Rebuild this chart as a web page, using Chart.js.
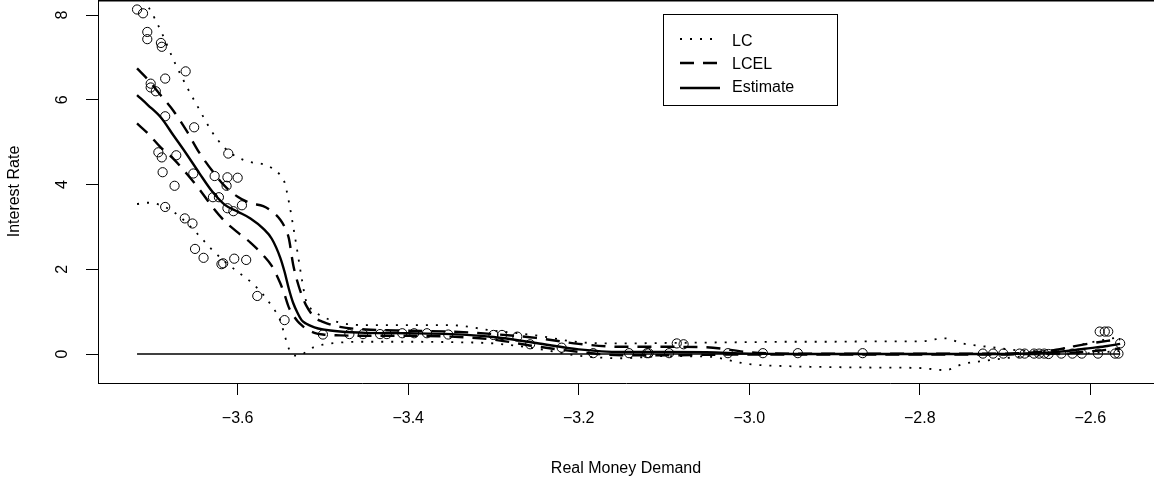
<!DOCTYPE html>
<html>
<head>
<meta charset="utf-8">
<script src="https://cdn.jsdelivr.net/npm/chart.js@4/dist/chart.umd.min.js"></script>
<style>
  html, body { margin: 0; padding: 0; background: #fff; }
  canvas { display: block; }
</style>
</head>
<body>
<canvas id="myChart" width="1154" height="484"></canvas>
<script>
// observed points (real money demand, interest rate)
const pointX = [-3.718, -3.711, -3.706, -3.706, -3.690, -3.689, -3.661, -3.685, -3.702, -3.702,
  -3.696, -3.685, -3.651, -3.611, -3.693, -3.689, -3.672, -3.688, -3.674, -3.652,
  -3.627, -3.612, -3.600, -3.613, -3.629, -3.622, -3.612, -3.605, -3.595, -3.685,
  -3.662, -3.653, -3.650, -3.640, -3.619, -3.617, -3.604, -3.590, -3.577, -3.545,
  -3.500, -3.469, -3.453, -3.433, -3.425, -3.407, -3.393, -3.378, -3.353, -3.300,
  -3.290, -3.272, -3.257, -3.220, -3.183, -3.141, -3.120, -3.118, -3.094, -3.085,
  -3.077, -3.025, -2.984, -2.943, -2.867, -2.726, -2.714, -2.702, -2.683, -2.677,
  -2.666, -2.660, -2.654, -2.649, -2.634, -2.621, -2.610, -2.591, -2.589, -2.583,
  -2.579, -2.571, -2.567, -2.565];
const pointY = [8.13, 8.04, 7.60, 7.43, 7.34, 7.25, 6.67, 6.50, 6.38, 6.29,
  6.20, 5.61, 5.35, 4.73, 4.76, 4.64, 4.69, 4.29, 3.97, 4.26,
  4.20, 4.17, 4.16, 3.97, 3.70, 3.70, 3.44, 3.37, 3.51, 3.47,
  3.20, 3.08, 2.48, 2.27, 2.12, 2.14, 2.25, 2.22, 1.37, 0.80,
  0.46, 0.47, 0.47, 0.47, 0.47, 0.49, 0.49, 0.49, 0.46, 0.45,
  0.45, 0.41, 0.23, 0.15, 0.02, 0.02, 0.02, 0.02, 0.02, 0.25,
  0.23, 0.02, 0.02, 0.02, 0.02, 0.01, 0.01, 0.01, 0.01, 0.01,
  0.01, 0.01, 0.01, 0.00, 0.01, 0.01, 0.01, 0.01, 0.53, 0.53,
  0.53, 0.01, 0.01, 0.25];

// curves, all on the same x grid
const curveX = [-3.718, -3.705, -3.69, -3.675, -3.66, -3.645, -3.63, -3.615, -3.60, -3.585,
  -3.57, -3.56, -3.55, -3.545, -3.54, -3.535, -3.53, -3.525, -3.52, -3.51,
  -3.50, -3.48, -3.45, -3.40, -3.35, -3.30, -3.25, -3.20, -3.15, -3.10,
  -3.05, -3.00, -2.95, -2.90, -2.85, -2.80, -2.77, -2.75, -2.72, -2.70,
  -2.68, -2.66, -2.64, -2.62, -2.60, -2.58, -2.565];
const estimate = [6.11, 5.87, 5.58, 5.15, 4.72, 4.27, 3.84, 3.52, 3.36, 3.20,
  2.96, 2.72, 2.27, 1.94, 1.54, 1.21, 0.98, 0.80, 0.72, 0.63,
  0.58, 0.53, 0.50, 0.49, 0.47, 0.40, 0.26, 0.11, 0.05, 0.05,
  0.04, 0.01, 0.00, 0.00, 0.00, 0.00, 0.00, 0.00, 0.00, 0.00,
  0.01, 0.02, 0.05, 0.09, 0.14, 0.19, 0.24];
const lcelUpper = [6.74, 6.47, 6.10, 5.73, 5.27, 4.75, 4.33, 3.96, 3.71, 3.56,
  3.49, 3.37, 3.17, 3.00, 2.73, 2.12, 1.71, 1.40, 1.16, 0.87,
  0.76, 0.64, 0.58, 0.55, 0.53, 0.47, 0.38, 0.24, 0.17, 0.17,
  0.16, 0.04, 0.01, 0.01, 0.01, 0.01, 0.01, 0.01, 0.01, 0.01,
  0.02, 0.05, 0.10, 0.18, 0.25, 0.31, 0.35];
const lcelLower = [5.44, 5.20, 4.87, 4.60, 4.26, 3.89, 3.48, 3.13, 2.87, 2.63,
  2.33, 2.08, 1.67, 1.40, 1.10, 0.92, 0.78, 0.68, 0.60, 0.50,
  0.46, 0.44, 0.43, 0.43, 0.41, 0.34, 0.18, 0.05, -0.03, -0.03,
  -0.02, -0.01, -0.01, -0.01, -0.01, -0.01, -0.01, -0.01, -0.01, -0.01,
  0.00, 0.00, 0.01, 0.03, 0.06, 0.10, 0.13];
const lcUpper = [8.55, 8.20, 7.62, 6.93, 6.32, 5.77, 5.24, 4.86, 4.64, 4.53,
  4.48, 4.39, 4.22, 4.05, 3.60, 3.03, 2.42, 1.80, 1.27, 1.01,
  0.88, 0.74, 0.68, 0.68, 0.68, 0.55, 0.44, 0.28, 0.25, 0.26,
  0.27, 0.28, 0.29, 0.29, 0.30, 0.30, 0.37, 0.25, 0.17, 0.12,
  0.08, 0.07, 0.10, 0.18, 0.27, 0.35, 0.40];
const lcLower = [3.54, 3.57, 3.51, 3.35, 3.10, 2.79, 2.46, 2.18, 1.94, 1.71,
  1.40, 1.13, 0.79, 0.45, 0.13, -0.02, -0.04, -0.02, 0.05, 0.17,
  0.22, 0.27, 0.29, 0.29, 0.28, 0.25, 0.13, -0.04, -0.10, -0.05,
  -0.06, -0.24, -0.29, -0.31, -0.32, -0.33, -0.38, -0.24, -0.15, -0.10,
  -0.06, -0.03, -0.01, 0.00, 0.02, 0.05, 0.07];

const zeroX = [-3.718, -2.565];
const zeroY = [0, 0];

const xTicks = [-3.6, -3.4, -3.2, -3.0, -2.8, -2.6];
const yTicks = [0, 2, 4, 6, 8];

const FONT = "'Liberation Sans', Arial, Helvetica, sans-serif";
const pairs = (xs, ys) => xs.map((x, i) => ({ x: x, y: ys[i] }));
const fmtX = (v) => (v < 0 ? "\u2212" : "") + Math.abs(v).toFixed(1);

function curve(label, ys, dash, width) {
  return {
    label: label,
    data: pairs(curveX, ys),
    showLine: true,
    pointRadius: 0,
    borderColor: "#000",
    borderWidth: width,
    borderDash: dash,
    cubicInterpolationMode: "monotone",
    fill: false,
  };
}

// legend drawn like the R one, plus the top edge of the box
const frame = {
  id: "frame",
  afterDraw(chart) {
    const { ctx, chartArea } = chart;
    ctx.save();
    ctx.strokeStyle = "#000";
    ctx.lineWidth = 1.5;
    ctx.setLineDash([]);
    ctx.beginPath();
    ctx.moveTo(chartArea.left, chartArea.top + 0.75);
    ctx.lineTo(chartArea.right, chartArea.top + 0.75);
    ctx.stroke();

    ctx.lineWidth = 1;
    ctx.fillStyle = "#fff";
    ctx.fillRect(663.5, 14.5, 174, 91);
    ctx.strokeRect(663.5, 14.5, 174, 91);

    const rows = [
      { ds: chart.data.datasets[6], y: 41.5, ly: 39 },
      { ds: chart.data.datasets[4], y: 64.5, ly: 63 },
      { ds: chart.data.datasets[2], y: 88, ly: 88 },
    ];
    ctx.font = "16px " + FONT;
    ctx.textBaseline = "middle";
    ctx.textAlign = "left";
    rows.forEach((r) => {
      ctx.lineWidth = r.ds.borderWidth;
      ctx.setLineDash(r.ds.borderDash || []);
      ctx.beginPath();
      ctx.moveTo(680, r.ly);
      ctx.lineTo(720, r.ly);
      ctx.stroke();
      ctx.setLineDash([]);
      ctx.fillStyle = "#000";
      ctx.fillText(r.ds.label, 732, r.y);
    });
    ctx.restore();
  },
};

const ctx = document.getElementById("myChart").getContext("2d");
new Chart(ctx, {
  type: "scatter",
  data: {
    datasets: [
      {
        label: "data",
        data: pairs(pointX, pointY),
        pointStyle: "circle",
        pointRadius: 4.6,
        pointBorderWidth: 1,
        borderColor: "#000",
        backgroundColor: "rgba(0,0,0,0)",
        showLine: false,
      },
      {
        label: "zero",
        data: pairs(zeroX, zeroY),
        showLine: true,
        pointRadius: 0,
        borderColor: "#000",
        borderWidth: 1.4,
      },
      curve("Estimate", estimate, [], 2.4),
      curve("LCEL upper", lcelUpper, [14, 9], 2.4),
      curve("LCEL", lcelLower, [14, 9], 2.4),
      curve("LC upper", lcUpper, [2, 8], 1.8),
      curve("LC", lcLower, [2, 8], 1.8),
    ],
  },
  options: {
    responsive: false,
    animation: false,
    devicePixelRatio: 1,
    layout: { padding: 0, autoPadding: false },
    plugins: {
      legend: { display: false },
      tooltip: { enabled: false },
    },
    scales: {
      x: {
        type: "linear",
        position: "bottom",
        min: -3.7638,
        max: -2.5253,
        afterBuildTicks: (axis) => {
          axis.ticks = xTicks.map((v) => ({ value: v }));
        },
        afterFit: (scale) => {
          scale.height = 101;
          scale.paddingLeft = 0;
          scale.paddingRight = 0;
        },
        ticks: {
          callback: fmtX,
          color: "#000",
          font: { family: FONT, size: 16 },
          padding: 14,
          maxRotation: 0,
          autoSkip: false,
        },
        grid: {
          drawOnChartArea: false,
          drawTicks: true,
          tickLength: 12,
          color: "#000",
          lineWidth: 1,
        },
        border: { display: true, color: "#000", width: 1 },
        title: {
          display: true,
          text: "Real Money Demand",
          color: "#000",
          font: { family: FONT, size: 16 },
          padding: { top: 0, bottom: 6 },
        },
      },
      y: {
        type: "linear",
        min: -0.684,
        max: 8.354,
        afterBuildTicks: (axis) => {
          axis.ticks = yTicks.map((v) => ({ value: v }));
        },
        afterFit: (scale) => {
          scale.width = 98;
          scale.paddingTop = 0;
          scale.paddingBottom = 0;
        },
        ticks: {
          callback: (v) => String(v),
          color: "#000",
          font: { family: FONT, size: 16 },
          padding: 19,
          minRotation: 90,
          maxRotation: 90,
          crossAlign: "center",
        },
        grid: {
          drawOnChartArea: false,
          drawTicks: true,
          tickLength: 12,
          color: "#000",
          lineWidth: 1,
        },
        border: { display: true, color: "#000", width: 1 },
        title: {
          display: true,
          text: "Interest Rate",
          color: "#000",
          font: { family: FONT, size: 16 },
          padding: { top: 5, bottom: 0 },
        },
      },
    },
  },
  plugins: [frame],
});
</script>
</body>
</html>
